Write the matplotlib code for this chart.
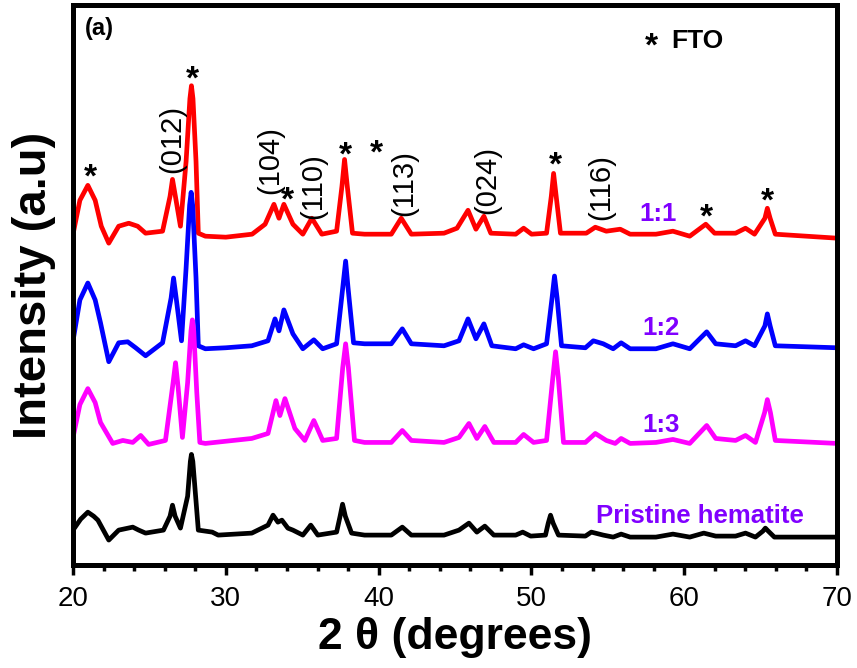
import matplotlib
matplotlib.use('Agg')
import matplotlib.pyplot as plt
from matplotlib.ticker import MultipleLocator

plt.rcParams['font.family'] = ['Liberation Sans', 'DejaVu Sans']

# (2theta in degrees, intensity in a.u. above the trace's own baseline)
red_11 = [(20.0, 2), (20.45, 36), (20.97, 51), (21.45, 36), (21.85, 10), (22.34, -7), (22.99, 10),
          (23.65, 13), (24.23, 10), (24.75, 3), (25.86, 5), (26.35, 40), (26.51, 57), (26.7, 40),
          (27.03, 10), (27.4, 75), (27.65, 138), (27.75, 151), (27.85, 138), (28.05, 75), (28.2, 3),
          (28.66, 0), (30.0, -1), (31.72, 2), (32.57, 12), (33.15, 32), (33.48, 18), (33.8, 32),
          (34.39, 12), (35.04, 2), (35.63, 18), (36.28, 2), (37.25, 5), (37.6, 50), (37.77, 77),
          (37.95, 50), (38.29, 3), (39.08, 2), (40.83, 2), (41.48, 18), (42.14, 2), (44.28, 3),
          (45.13, 8), (45.85, 26), (46.37, 7), (46.89, 20), (47.34, 3), (48.97, 2), (49.49, 8),
          (50.01, 2), (50.99, 3), (51.3, 40), (51.45, 63), (51.62, 40), (51.9, 3), (53.59, 3),
          (54.18, 9), (54.9, 5), (55.81, 7), (56.46, 2), (58.15, 2), (59.26, 5), (60.36, 0),
          (61.41, 12), (61.99, 3), (63.36, 3), (64.01, 8), (64.6, 2), (65.28, 18), (65.44, 28),
          (65.62, 18), (65.96, 2), (70.0, -2)]

blue_12 = [(20.0, 7), (20.45, 48), (20.97, 65), (21.45, 48), (21.8, 25), (22.34, -14), (22.99, 5),
           (23.58, 6), (24.1, 0), (24.75, -8), (25.86, 5), (26.42, 50), (26.58, 70), (26.75, 50),
           (27.1, 7), (27.4, 80), (27.63, 143), (27.73, 156), (27.83, 143), (28.05, 70), (28.2, 2),
           (28.66, -1), (30.0, 0), (31.7, 2), (32.76, 7), (33.22, 29), (33.48, 17), (33.8, 38),
           (34.39, 14), (35.04, -1), (35.76, 8), (36.34, -1), (37.25, 4), (37.65, 60), (37.84, 87),
           (38.0, 60), (38.36, 5), (39.08, 4), (40.83, 4), (41.55, 19), (42.14, 4), (44.28, 2),
           (45.26, 7), (45.85, 29), (46.37, 9), (46.89, 24), (47.41, 2), (48.97, -1), (49.49, 3),
           (50.14, -1), (50.99, 4), (51.35, 50), (51.51, 72), (51.68, 50), (51.97, 2), (53.53, 0),
           (54.05, 7), (54.7, 4), (55.35, -1), (55.87, 5), (56.46, -1), (58.15, -1), (59.26, 4),
           (60.36, -1), (61.47, 16), (62.06, 4), (63.36, 2), (64.01, 7), (64.6, 2), (65.28, 22),
           (65.44, 34), (65.62, 22), (65.96, 2), (70.0, 0)]

magenta_13 = [(20.0, 5), (20.45, 38), (20.97, 54), (21.45, 40), (21.8, 20), (22.6, -1), (23.26, 2),
              (23.91, 0), (24.43, 7), (24.95, -2), (26.05, 2), (26.55, 60), (26.71, 80), (26.88, 55),
              (27.16, 5), (27.5, 60), (27.72, 112), (27.81, 123), (27.9, 112), (28.1, 50), (28.3, 0),
              (28.66, -1), (31.7, 4), (32.76, 9), (33.28, 42), (33.54, 27), (33.87, 44), (34.52, 14),
              (35.17, 2), (35.76, 22), (36.34, 2), (37.25, 4), (37.65, 75), (37.84, 99), (38.02, 75),
              (38.42, 2), (39.08, 0), (40.83, 0), (41.55, 12), (42.14, 2), (44.28, 0), (45.26, 5),
              (45.91, 19), (46.43, 4), (46.95, 16), (47.54, 0), (48.97, 0), (49.49, 8), (50.14, 0),
              (50.99, 2), (51.4, 65), (51.58, 91), (51.76, 65), (52.1, 0), (53.53, 0), (54.18, 9),
              (54.9, 2), (55.48, -1), (55.87, 4), (56.46, -1), (58.15, 0), (59.26, 3), (60.36, -1),
              (61.47, 17), (62.06, 4), (63.36, 2), (64.01, 7), (64.66, 0), (65.26, 30), (65.44, 43),
              (65.64, 30), (65.96, 2), (70.0, -1)]

black_pristine = [(20.0, 6), (20.5, 17), (20.97, 24), (21.35, 20), (21.63, 16), (22.34, -4),
                  (22.99, 6), (23.91, 9), (24.3, 6), (24.75, 3), (25.92, 6), (26.35, 20), (26.51, 31),
                  (26.68, 20), (27.03, 8), (27.5, 40), (27.68, 75), (27.75, 82), (27.84, 75),
                  (28.05, 35), (28.2, 6), (29.11, 4), (29.5, 1), (31.7, 3), (32.76, 11), (33.09, 21),
                  (33.41, 14), (33.67, 16), (34.06, 8), (34.39, 6), (35.04, 1), (35.56, 11), (36.02, 1),
                  (37.25, 4), (37.48, 20), (37.64, 32), (37.82, 20), (38.23, 3), (39.08, 1), (40.83, 1),
                  (41.55, 9), (42.14, 1), (44.28, 1), (45.26, 6), (45.91, 13), (46.43, 4), (46.95, 10),
                  (47.54, 1), (48.97, 1), (49.43, 4), (49.95, 0), (50.92, 1), (51.1, 13), (51.25, 21),
                  (51.42, 13), (51.77, 1), (53.53, 0), (53.92, 4), (54.7, 1), (55.35, -1), (55.87, 2),
                  (56.46, -1), (58.15, -1), (59.26, 2), (60.36, -1), (61.28, 3), (62.06, 0), (63.36, 0),
                  (64.01, 3), (64.66, -1), (65.15, 5), (65.31, 8), (65.5, 5), (65.9, -1), (70.0, -1)]

series_names = ['1:1', '1:2', '1:3', 'Pristine hematite']
series_colors = ['#ff0000', '#0000ff', '#ff00ff', '#000000']
series_offsets = [328, 216, 121, 27]

hkl_labels = ['(012)', '(104)', '(110)', '(113)', '(024)', '(116)']
hkl_pos = [(26.5, 426), (32.9, 404), (35.7, 378), (41.7, 381), (47.1, 384), (54.6, 377)]
fto_pos = [(21.17, 386), (27.8, 485), (34.0, 363), (37.8, 408), (39.86, 410),
           (51.58, 398), (61.47, 346), (65.44, 362)]
name_pos = [(58.3, 350), (58.5, 236), (58.5, 138), (61.0, 47)]

fig = plt.figure(figsize=(8.57, 6.68), dpi=100)
ax = fig.add_axes([0.0852, 0.1542, 0.8915, 0.8383])

traces = [red_11, blue_12, magenta_13, black_pristine]
for pts, color, off in zip(traces, series_colors, series_offsets):
    tt = [p[0] for p in pts]
    inten = [p[1] + off for p in pts]
    ax.plot(tt, inten, color=color, lw=3.4, solid_joinstyle='round')

for (x, y), name in zip(name_pos, series_names):
    ax.text(x, y, name, color='#8000ff', fontsize=18.5, fontweight='bold', ha='center', va='center')

for (x, y), lab in zip(hkl_pos, hkl_labels):
    ax.text(x, y, lab, fontsize=21, rotation=90, ha='center', va='center')

for x, y in fto_pos:
    ax.text(x, y, '*', fontsize=24, fontweight='bold', ha='center', va='center')

ax.text(0.016, 0.958, '(a)', transform=ax.transAxes, fontsize=17, fontweight='bold', va='center')
ax.text(0.757, 0.925, '*', transform=ax.transAxes, fontsize=24, fontweight='bold', ha='center', va='center')
ax.text(0.783, 0.935, 'FTO', transform=ax.transAxes, fontsize=19, fontweight='bold', va='center')

ax.set_xlim(20, 70)
ax.set_ylim(-2, 560)
ax.set_yticks([])
ax.xaxis.set_major_locator(MultipleLocator(10))
ax.xaxis.set_minor_locator(MultipleLocator(2))
ax.tick_params(axis='x', which='major', direction='out', length=7, width=2.5, labelsize=20, pad=8)
ax.tick_params(axis='x', which='minor', direction='out', length=4.5, width=2.5)
for sp in ax.spines.values():
    sp.set_linewidth(3.6)

ax.set_xlabel('2 θ (degrees)', fontsize=32, fontweight='bold', labelpad=4)
ax.set_ylabel('Intensity (a.u)', fontsize=34, fontweight='bold', labelpad=12)

fig.savefig('out.png', dpi=100)
